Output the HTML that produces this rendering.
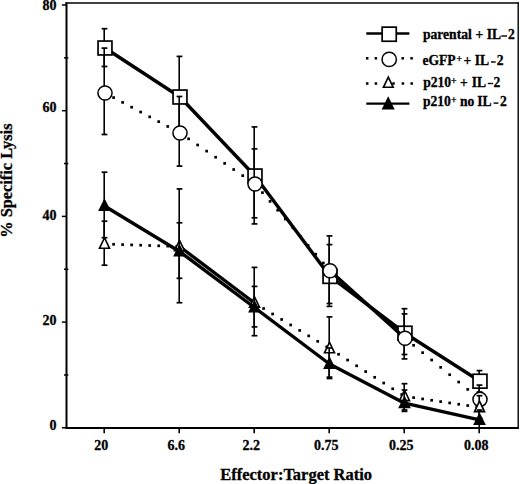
<!DOCTYPE html>
<html><head><meta charset="utf-8"><style>
html,body{margin:0;padding:0;background:#fff;}
body{width:520px;height:484px;overflow:hidden;}
svg{display:block;}
</style></head><body>
<svg width="520" height="484" viewBox="0 0 520 484">
<rect width="520" height="484" fill="#fff"/>
<line x1="66.5" y1="2.2" x2="66.5" y2="428.8" stroke="#000" stroke-width="2"/>
<line x1="65.5" y1="3" x2="518.8" y2="3" stroke="#000" stroke-width="1.6"/>
<line x1="518.2" y1="2.2" x2="518.2" y2="428.8" stroke="#000" stroke-width="1.4"/>
<line x1="65.5" y1="428" x2="518.8" y2="428" stroke="#000" stroke-width="2"/>
<line x1="61.9" y1="427.80" x2="66.5" y2="427.80" stroke="#000" stroke-width="1.5"/>
<line x1="61.9" y1="322.10" x2="66.5" y2="322.10" stroke="#000" stroke-width="1.5"/>
<line x1="61.9" y1="216.40" x2="66.5" y2="216.40" stroke="#000" stroke-width="1.5"/>
<line x1="61.9" y1="110.70" x2="66.5" y2="110.70" stroke="#000" stroke-width="1.5"/>
<line x1="61.9" y1="5.00" x2="66.5" y2="5.00" stroke="#000" stroke-width="1.5"/>
<line x1="64" y1="374.95" x2="68.3" y2="374.95" stroke="#000" stroke-width="1.5"/>
<line x1="64" y1="269.25" x2="68.3" y2="269.25" stroke="#000" stroke-width="1.5"/>
<line x1="64" y1="163.55" x2="68.3" y2="163.55" stroke="#000" stroke-width="1.5"/>
<line x1="64" y1="57.85" x2="68.3" y2="57.85" stroke="#000" stroke-width="1.5"/>
<line x1="104.20" y1="427.8" x2="104.20" y2="433.2" stroke="#000" stroke-width="1.6"/>
<line x1="179.20" y1="427.8" x2="179.20" y2="433.2" stroke="#000" stroke-width="1.6"/>
<line x1="254.20" y1="427.8" x2="254.20" y2="433.2" stroke="#000" stroke-width="1.6"/>
<line x1="329.20" y1="427.8" x2="329.20" y2="433.2" stroke="#000" stroke-width="1.6"/>
<line x1="404.20" y1="427.8" x2="404.20" y2="433.2" stroke="#000" stroke-width="1.6"/>
<line x1="479.20" y1="427.8" x2="479.20" y2="433.2" stroke="#000" stroke-width="1.6"/>
<g font-family='"Liberation Serif", serif' font-weight="bold" font-size="14" fill="#000" stroke="#000" stroke-width="0.3">
<text x="56.6" y="430.4" text-anchor="end">0</text>
<text x="56.6" y="324.7" text-anchor="end">20</text>
<text x="56.6" y="220.4" text-anchor="end">40</text>
<text x="56.6" y="112.2" text-anchor="end">60</text>
<text x="56.6" y="10.2" text-anchor="end">80</text>
<text x="101.20" y="450" text-anchor="middle">20</text>
<text x="176.20" y="450" text-anchor="middle">6.6</text>
<text x="251.20" y="450" text-anchor="middle">2.2</text>
<text x="326.20" y="450" text-anchor="middle">0.75</text>
<text x="401.20" y="450" text-anchor="middle">0.25</text>
<text x="476.20" y="450" text-anchor="middle">0.08</text>
</g>
<text x="220.3" y="480" font-family='"Liberation Serif", serif' font-weight="bold" font-size="16.3" stroke="#000" stroke-width="0.3" textLength="151.7" lengthAdjust="spacingAndGlyphs">Effector:Target Ratio</text>
<text transform="translate(12.3,237.7) rotate(-90)" x="0" y="0" font-family='"Liberation Serif", serif' font-weight="bold" font-size="16" stroke="#000" stroke-width="0.3" textLength="114.2" lengthAdjust="spacingAndGlyphs">% Specific Lysis</text>
<polyline points="105.00,48.00 180.00,97.00 255.00,176.00 330.00,276.40 405.00,333.20 480.00,381.20" fill="none" stroke="#000" stroke-width="3.4" stroke-linejoin="round"/>
<line x1="104.20" y1="28.70" x2="104.20" y2="66.50" stroke="#000" stroke-width="1.6"/>
<line x1="101.60" y1="28.70" x2="107.40" y2="28.70" stroke="#000" stroke-width="1.7"/>
<line x1="101.60" y1="66.50" x2="107.40" y2="66.50" stroke="#000" stroke-width="1.7"/>
<line x1="179.20" y1="56.40" x2="179.20" y2="137.60" stroke="#000" stroke-width="1.6"/>
<line x1="176.60" y1="56.40" x2="182.40" y2="56.40" stroke="#000" stroke-width="1.7"/>
<line x1="176.60" y1="137.60" x2="182.40" y2="137.60" stroke="#000" stroke-width="1.7"/>
<line x1="254.20" y1="126.90" x2="254.20" y2="223.90" stroke="#000" stroke-width="1.6"/>
<line x1="251.60" y1="126.90" x2="257.40" y2="126.90" stroke="#000" stroke-width="1.7"/>
<line x1="251.60" y1="223.90" x2="257.40" y2="223.90" stroke="#000" stroke-width="1.7"/>
<line x1="329.20" y1="244.60" x2="329.20" y2="306.40" stroke="#000" stroke-width="1.6"/>
<line x1="326.60" y1="244.60" x2="332.40" y2="244.60" stroke="#000" stroke-width="1.7"/>
<line x1="326.60" y1="306.40" x2="332.40" y2="306.40" stroke="#000" stroke-width="1.7"/>
<line x1="404.20" y1="308.70" x2="404.20" y2="358.90" stroke="#000" stroke-width="1.6"/>
<line x1="401.60" y1="308.70" x2="407.40" y2="308.70" stroke="#000" stroke-width="1.7"/>
<line x1="401.60" y1="358.90" x2="407.40" y2="358.90" stroke="#000" stroke-width="1.7"/>
<line x1="479.20" y1="370.60" x2="479.20" y2="392.00" stroke="#000" stroke-width="1.6"/>
<line x1="476.60" y1="370.60" x2="482.40" y2="370.60" stroke="#000" stroke-width="1.7"/>
<line x1="476.60" y1="392.00" x2="482.40" y2="392.00" stroke="#000" stroke-width="1.7"/>
<rect x="98.05" y="41.05" width="13.90" height="13.90" fill="#fff" stroke="#000" stroke-width="1.7"/>
<rect x="173.05" y="90.05" width="13.90" height="13.90" fill="#fff" stroke="#000" stroke-width="1.7"/>
<rect x="248.05" y="169.05" width="13.90" height="13.90" fill="#fff" stroke="#000" stroke-width="1.7"/>
<rect x="323.05" y="269.45" width="13.90" height="13.90" fill="#fff" stroke="#000" stroke-width="1.7"/>
<rect x="398.05" y="326.25" width="13.90" height="13.90" fill="#fff" stroke="#000" stroke-width="1.7"/>
<rect x="473.05" y="374.25" width="13.90" height="13.90" fill="#fff" stroke="#000" stroke-width="1.7"/>
<rect x="112.25" y="96.24" width="2.70" height="2.70"/>
<rect x="121.27" y="101.05" width="2.70" height="2.70"/>
<rect x="130.29" y="105.86" width="2.70" height="2.70"/>
<rect x="139.31" y="110.67" width="2.70" height="2.70"/>
<rect x="148.33" y="115.48" width="2.70" height="2.70"/>
<rect x="157.35" y="120.29" width="2.70" height="2.70"/>
<rect x="166.37" y="125.10" width="2.70" height="2.70"/>
<rect x="175.39" y="129.91" width="2.70" height="2.70"/>
<rect x="187.25" y="137.50" width="2.70" height="2.70"/>
<rect x="196.27" y="143.63" width="2.70" height="2.70"/>
<rect x="205.29" y="149.77" width="2.70" height="2.70"/>
<rect x="214.31" y="155.90" width="2.70" height="2.70"/>
<rect x="223.33" y="162.03" width="2.70" height="2.70"/>
<rect x="232.35" y="168.17" width="2.70" height="2.70"/>
<rect x="241.37" y="174.30" width="2.70" height="2.70"/>
<rect x="250.39" y="180.43" width="2.70" height="2.70"/>
<rect x="261.09" y="191.25" width="2.70" height="2.70"/>
<rect x="268.70" y="200.05" width="2.70" height="2.70"/>
<rect x="276.31" y="208.85" width="2.70" height="2.70"/>
<rect x="283.93" y="217.65" width="2.70" height="2.70"/>
<rect x="291.54" y="226.45" width="2.70" height="2.70"/>
<rect x="299.15" y="235.25" width="2.70" height="2.70"/>
<rect x="306.76" y="244.05" width="2.70" height="2.70"/>
<rect x="314.38" y="252.85" width="2.70" height="2.70"/>
<rect x="321.99" y="261.65" width="2.70" height="2.70"/>
<polyline points="330.00,270.70 405.00,338.30" fill="none" stroke="#000" stroke-width="3.4" stroke-linejoin="round"/>
<rect x="412.25" y="343.96" width="2.70" height="2.70"/>
<rect x="421.27" y="351.30" width="2.70" height="2.70"/>
<rect x="430.29" y="358.65" width="2.70" height="2.70"/>
<rect x="439.31" y="366.00" width="2.70" height="2.70"/>
<rect x="448.33" y="373.35" width="2.70" height="2.70"/>
<rect x="457.35" y="380.70" width="2.70" height="2.70"/>
<rect x="466.37" y="388.05" width="2.70" height="2.70"/>
<rect x="475.39" y="395.39" width="2.70" height="2.70"/>
<line x1="104.20" y1="48.10" x2="104.20" y2="134.50" stroke="#000" stroke-width="1.6"/>
<line x1="101.60" y1="48.10" x2="107.40" y2="48.10" stroke="#000" stroke-width="1.7"/>
<line x1="101.60" y1="134.50" x2="107.40" y2="134.50" stroke="#000" stroke-width="1.7"/>
<line x1="179.20" y1="96.50" x2="179.20" y2="166.10" stroke="#000" stroke-width="1.6"/>
<line x1="176.60" y1="96.50" x2="182.40" y2="96.50" stroke="#000" stroke-width="1.7"/>
<line x1="176.60" y1="166.10" x2="182.40" y2="166.10" stroke="#000" stroke-width="1.7"/>
<line x1="254.20" y1="148.90" x2="254.20" y2="217.80" stroke="#000" stroke-width="1.6"/>
<line x1="251.60" y1="148.90" x2="257.40" y2="148.90" stroke="#000" stroke-width="1.7"/>
<line x1="251.60" y1="217.80" x2="257.40" y2="217.80" stroke="#000" stroke-width="1.7"/>
<line x1="329.20" y1="235.90" x2="329.20" y2="303.50" stroke="#000" stroke-width="1.6"/>
<line x1="326.60" y1="235.90" x2="332.40" y2="235.90" stroke="#000" stroke-width="1.7"/>
<line x1="326.60" y1="303.50" x2="332.40" y2="303.50" stroke="#000" stroke-width="1.7"/>
<line x1="404.20" y1="313.90" x2="404.20" y2="354.50" stroke="#000" stroke-width="1.6"/>
<line x1="401.60" y1="313.90" x2="407.40" y2="313.90" stroke="#000" stroke-width="1.7"/>
<line x1="401.60" y1="354.50" x2="407.40" y2="354.50" stroke="#000" stroke-width="1.7"/>
<line x1="479.20" y1="385.10" x2="479.20" y2="410.00" stroke="#000" stroke-width="1.6"/>
<line x1="476.60" y1="385.10" x2="482.40" y2="385.10" stroke="#000" stroke-width="1.7"/>
<line x1="476.60" y1="410.00" x2="482.40" y2="410.00" stroke="#000" stroke-width="1.7"/>
<circle cx="105.00" cy="93.00" r="7.05" fill="#fff" stroke="#000" stroke-width="1.5"/>
<circle cx="180.00" cy="133.00" r="7.05" fill="#fff" stroke="#000" stroke-width="1.5"/>
<circle cx="255.00" cy="184.00" r="7.05" fill="#fff" stroke="#000" stroke-width="1.5"/>
<circle cx="330.00" cy="270.70" r="7.05" fill="#fff" stroke="#000" stroke-width="1.5"/>
<circle cx="405.00" cy="338.30" r="7.05" fill="#fff" stroke="#000" stroke-width="1.5"/>
<circle cx="480.00" cy="399.40" r="7.05" fill="#fff" stroke="#000" stroke-width="1.5"/>
<rect x="112.25" y="242.95" width="2.70" height="2.70"/>
<rect x="121.27" y="243.25" width="2.70" height="2.70"/>
<rect x="130.29" y="243.55" width="2.70" height="2.70"/>
<rect x="139.31" y="243.86" width="2.70" height="2.70"/>
<rect x="148.33" y="244.16" width="2.70" height="2.70"/>
<rect x="157.35" y="244.46" width="2.70" height="2.70"/>
<rect x="166.37" y="244.76" width="2.70" height="2.70"/>
<rect x="175.39" y="245.06" width="2.70" height="2.70"/>
<polyline points="179.50,246.50 254.50,303.00" fill="none" stroke="#000" stroke-width="3.4" stroke-linejoin="round"/>
<rect x="262.25" y="307.17" width="2.70" height="2.70"/>
<rect x="271.27" y="312.64" width="2.70" height="2.70"/>
<rect x="280.29" y="318.11" width="2.70" height="2.70"/>
<rect x="289.31" y="323.59" width="2.70" height="2.70"/>
<rect x="298.33" y="329.06" width="2.70" height="2.70"/>
<rect x="307.35" y="334.53" width="2.70" height="2.70"/>
<rect x="316.37" y="340.00" width="2.70" height="2.70"/>
<rect x="325.39" y="345.48" width="2.70" height="2.70"/>
<rect x="337.25" y="352.95" width="2.70" height="2.70"/>
<rect x="346.27" y="358.70" width="2.70" height="2.70"/>
<rect x="355.29" y="364.45" width="2.70" height="2.70"/>
<rect x="364.31" y="370.20" width="2.70" height="2.70"/>
<rect x="373.33" y="375.94" width="2.70" height="2.70"/>
<rect x="382.35" y="381.69" width="2.70" height="2.70"/>
<rect x="391.37" y="387.44" width="2.70" height="2.70"/>
<rect x="400.39" y="393.19" width="2.70" height="2.70"/>
<rect x="412.25" y="396.28" width="2.70" height="2.70"/>
<rect x="421.27" y="397.61" width="2.70" height="2.70"/>
<rect x="430.29" y="398.93" width="2.70" height="2.70"/>
<rect x="439.31" y="400.25" width="2.70" height="2.70"/>
<rect x="448.33" y="401.58" width="2.70" height="2.70"/>
<rect x="457.35" y="402.90" width="2.70" height="2.70"/>
<rect x="466.37" y="404.22" width="2.70" height="2.70"/>
<rect x="475.39" y="405.55" width="2.70" height="2.70"/>
<line x1="104.20" y1="221.20" x2="104.20" y2="265.20" stroke="#000" stroke-width="1.6"/>
<line x1="101.60" y1="221.20" x2="107.40" y2="221.20" stroke="#000" stroke-width="1.7"/>
<line x1="101.60" y1="265.20" x2="107.40" y2="265.20" stroke="#000" stroke-width="1.7"/>
<line x1="179.20" y1="188.90" x2="179.20" y2="302.70" stroke="#000" stroke-width="1.6"/>
<line x1="176.60" y1="188.90" x2="182.40" y2="188.90" stroke="#000" stroke-width="1.7"/>
<line x1="176.60" y1="302.70" x2="182.40" y2="302.70" stroke="#000" stroke-width="1.7"/>
<line x1="254.20" y1="267.40" x2="254.20" y2="335.70" stroke="#000" stroke-width="1.6"/>
<line x1="251.60" y1="267.40" x2="257.40" y2="267.40" stroke="#000" stroke-width="1.7"/>
<line x1="251.60" y1="335.70" x2="257.40" y2="335.70" stroke="#000" stroke-width="1.7"/>
<line x1="329.20" y1="316.90" x2="329.20" y2="378.50" stroke="#000" stroke-width="1.6"/>
<line x1="326.60" y1="316.90" x2="332.40" y2="316.90" stroke="#000" stroke-width="1.7"/>
<line x1="326.60" y1="378.50" x2="332.40" y2="378.50" stroke="#000" stroke-width="1.7"/>
<line x1="404.20" y1="383.70" x2="404.20" y2="411.40" stroke="#000" stroke-width="1.6"/>
<line x1="401.60" y1="383.70" x2="407.40" y2="383.70" stroke="#000" stroke-width="1.7"/>
<line x1="401.60" y1="411.40" x2="407.40" y2="411.40" stroke="#000" stroke-width="1.7"/>
<line x1="479.20" y1="395.70" x2="479.20" y2="418.00" stroke="#000" stroke-width="1.6"/>
<line x1="476.60" y1="395.70" x2="482.40" y2="395.70" stroke="#000" stroke-width="1.7"/>
<line x1="476.60" y1="418.00" x2="482.40" y2="418.00" stroke="#000" stroke-width="1.7"/>
<polygon points="104.50,237.76 99.46,248.32 109.54,248.32" fill="#fff" stroke="#000" stroke-width="1.6" stroke-linejoin="miter"/>
<polygon points="179.50,240.26 174.46,250.82 184.54,250.82" fill="#fff" stroke="#000" stroke-width="1.6" stroke-linejoin="miter"/>
<polygon points="254.50,296.76 249.46,307.32 259.54,307.32" fill="#fff" stroke="#000" stroke-width="1.6" stroke-linejoin="miter"/>
<polygon points="329.50,342.26 324.46,352.82 334.54,352.82" fill="#fff" stroke="#000" stroke-width="1.6" stroke-linejoin="miter"/>
<polygon points="404.50,390.06 399.46,400.62 409.54,400.62" fill="#fff" stroke="#000" stroke-width="1.6" stroke-linejoin="miter"/>
<polygon points="479.50,401.06 474.46,411.62 484.54,411.62" fill="#fff" stroke="#000" stroke-width="1.6" stroke-linejoin="miter"/>
<polyline points="104.50,206.00 179.50,251.50 254.50,307.50 329.50,364.00 404.50,403.20 479.50,419.90" fill="none" stroke="#000" stroke-width="3.4" stroke-linejoin="round"/>
<line x1="104.20" y1="172.20" x2="104.20" y2="237.70" stroke="#000" stroke-width="1.6"/>
<line x1="101.60" y1="172.20" x2="107.40" y2="172.20" stroke="#000" stroke-width="1.7"/>
<line x1="101.60" y1="237.70" x2="107.40" y2="237.70" stroke="#000" stroke-width="1.7"/>
<line x1="179.20" y1="222.80" x2="179.20" y2="278.30" stroke="#000" stroke-width="1.6"/>
<line x1="176.60" y1="222.80" x2="182.40" y2="222.80" stroke="#000" stroke-width="1.7"/>
<line x1="176.60" y1="278.30" x2="182.40" y2="278.30" stroke="#000" stroke-width="1.7"/>
<line x1="254.20" y1="286.40" x2="254.20" y2="326.90" stroke="#000" stroke-width="1.6"/>
<line x1="251.60" y1="286.40" x2="257.40" y2="286.40" stroke="#000" stroke-width="1.7"/>
<line x1="251.60" y1="326.90" x2="257.40" y2="326.90" stroke="#000" stroke-width="1.7"/>
<line x1="329.20" y1="348.00" x2="329.20" y2="377.10" stroke="#000" stroke-width="1.6"/>
<line x1="326.60" y1="348.00" x2="332.40" y2="348.00" stroke="#000" stroke-width="1.7"/>
<line x1="326.60" y1="377.10" x2="332.40" y2="377.10" stroke="#000" stroke-width="1.7"/>
<line x1="404.20" y1="390.00" x2="404.20" y2="410.00" stroke="#000" stroke-width="1.6"/>
<line x1="401.60" y1="390.00" x2="407.40" y2="390.00" stroke="#000" stroke-width="1.7"/>
<line x1="401.60" y1="410.00" x2="407.40" y2="410.00" stroke="#000" stroke-width="1.7"/>
<line x1="479.20" y1="410.00" x2="479.20" y2="428.00" stroke="#000" stroke-width="1.6"/>
<line x1="476.60" y1="410.00" x2="482.40" y2="410.00" stroke="#000" stroke-width="1.7"/>
<line x1="476.60" y1="428.00" x2="482.40" y2="428.00" stroke="#000" stroke-width="1.7"/>
<polygon points="104.50,198.32 98.10,211.12 110.90,211.12" fill="#000"/>
<polygon points="179.50,243.82 173.10,256.62 185.90,256.62" fill="#000"/>
<polygon points="254.50,299.82 248.10,312.62 260.90,312.62" fill="#000"/>
<polygon points="329.50,356.32 323.10,369.12 335.90,369.12" fill="#000"/>
<polygon points="404.50,395.52 398.10,408.32 410.90,408.32" fill="#000"/>
<polygon points="479.50,412.22 473.10,425.02 485.90,425.02" fill="#000"/>
<line x1="366.3" y1="33.5" x2="409.4" y2="33.5" stroke="#000" stroke-width="2.3"/>
<rect x="382.15" y="27.15" width="14.10" height="14.10" fill="#fff" stroke="#000" stroke-width="1.7"/>
<rect x="365.95" y="57.05" width="2.5" height="2.5"/>
<rect x="374.65" y="57.05" width="2.5" height="2.5"/>
<rect x="383.35" y="57.05" width="2.5" height="2.5"/>
<rect x="392.05" y="57.05" width="2.5" height="2.5"/>
<rect x="401.45" y="57.05" width="2.5" height="2.5"/>
<rect x="410.35" y="57.05" width="2.5" height="2.5"/>
<circle cx="389.20" cy="59.40" r="7.15" fill="#fff" stroke="#000" stroke-width="1.5"/>
<rect x="365.95" y="82.25" width="2.5" height="2.5"/>
<rect x="374.65" y="82.25" width="2.5" height="2.5"/>
<rect x="392.25" y="82.25" width="2.5" height="2.5"/>
<rect x="401.65" y="82.25" width="2.5" height="2.5"/>
<rect x="410.45" y="82.25" width="2.5" height="2.5"/>
<polygon points="388.30,77.04 383.41,87.30 393.19,87.30" fill="#fff" stroke="#000" stroke-width="1.6" stroke-linejoin="miter"/>
<line x1="366.3" y1="103.6" x2="409.4" y2="103.6" stroke="#000" stroke-width="2.4"/>
<polygon points="388.20,96.34 381.65,109.44 394.75,109.44" fill="#000"/>
<g font-family='"Liberation Serif", serif' font-weight="bold" font-size="13.6" fill="#000" stroke="#000" stroke-width="0.3">
<text x="422.90" y="39.3">parental</text>
<text x="475.56" y="39.3">+</text>
<text x="486.83" y="39.3">IL</text>
<text x="507.91" y="39.3">2</text>
<rect x="501.30" y="35.30" width="5.70" height="1.4" stroke="none"/>
<text x="422.42" y="65.3">eGFP</text>
<text x="463.56" y="65.3">+</text>
<text x="474.63" y="65.3">IL</text>
<text x="496.71" y="65.3">2</text>
<text x="456.40" y="62.30" font-size="9.7">+</text>
<rect x="491.00" y="61.30" width="4.70" height="1.4" stroke="none"/>
<text x="423.22" y="86.8">p210</text>
<text x="460.06" y="86.8">+</text>
<text x="471.63" y="86.8">IL</text>
<text x="493.61" y="86.8">2</text>
<text x="450.90" y="83.80" font-size="9.7">+</text>
<rect x="487.80" y="82.80" width="5.30" height="1.4" stroke="none"/>
<text x="422.92" y="106.4">p210</text>
<text x="459.92" y="106.4">no</text>
<text x="477.33" y="106.4">IL</text>
<text x="499.91" y="106.4">2</text>
<text x="450.90" y="103.40" font-size="9.7">+</text>
<rect x="493.60" y="102.40" width="4.80" height="1.4" stroke="none"/>
</g>
</svg>
</body></html>
